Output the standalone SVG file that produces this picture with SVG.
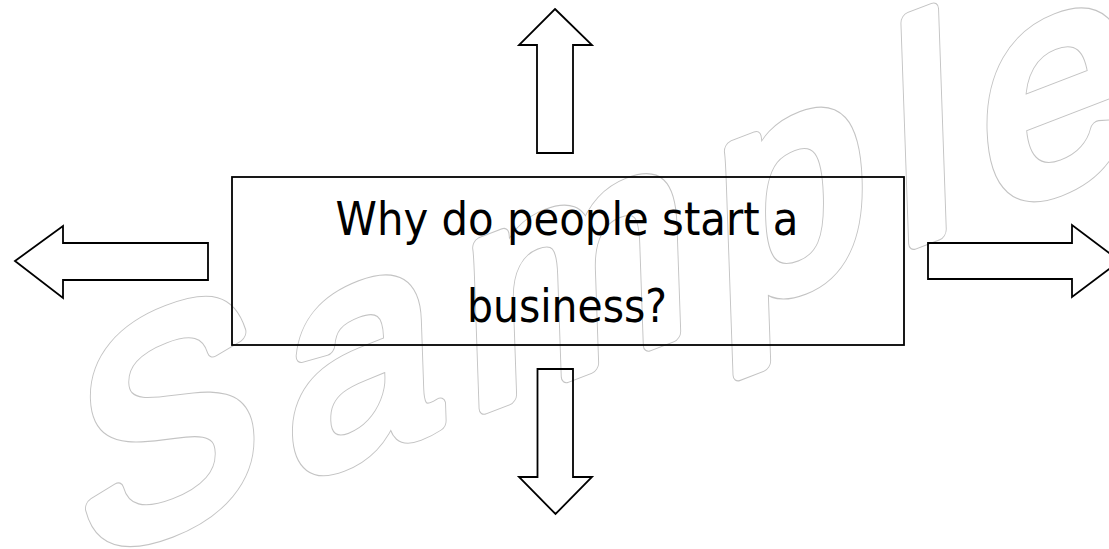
<svg xmlns="http://www.w3.org/2000/svg" width="1109" height="549" viewBox="0 0 1109 549">
<style>
.wm{font-family:"Liberation Sans",Arial,sans-serif;font-size:288px;stroke-linejoin:round;stroke-linecap:round}
.wm-o{stroke:#c4c4c4;fill:#c4c4c4;stroke-width:16}
.wm-i{stroke:#fff;fill:#fff;stroke-width:14}
.arrow{fill:none;stroke:#000;stroke-width:1.8;stroke-linejoin:miter}
.box{fill:none;stroke:#000;stroke-width:1.8}
.lbl{font-family:"DejaVu Sans",Tahoma,Verdana,sans-serif;font-size:46px;fill:#000;text-anchor:middle}
</style>
<rect width="1109" height="549" fill="#fff"/>
<g id="watermark" transform="translate(82,561) rotate(-21) skewX(-19)">
<text class="wm wm-o" x="0" y="0" textLength="1128" lengthAdjust="spacing">Sample</text>
<text class="wm wm-i" x="0" y="0" textLength="1128" lengthAdjust="spacing">Sample</text>
</g>
<g id="center">
<rect class="box" x="232" y="177" width="672" height="168"/>
<text class="lbl" x="567" y="235" textLength="463" lengthAdjust="spacingAndGlyphs">Why do people start a</text>
<text class="lbl" x="567" y="322" textLength="200" lengthAdjust="spacingAndGlyphs">business?</text>
</g>
<g id="connectors">
<polygon id="arrow-up" class="arrow" points="555,9 592,45 573,45 573,153 537,153 537,45 519,45"/>
<polygon id="arrow-down" class="arrow" points="537.5,369 573,369 573,477 592,477 555.5,514 519,477 537.5,477"/>
<polygon id="arrow-left" class="arrow" points="15,261 63,226 63,243 208,243 208,280 63,280 63,298"/>
<polygon id="arrow-right" class="arrow" points="928,243 1072,243 1072,225 1120,261 1072,297 1072,279 928,279"/>
</g>
</svg>
